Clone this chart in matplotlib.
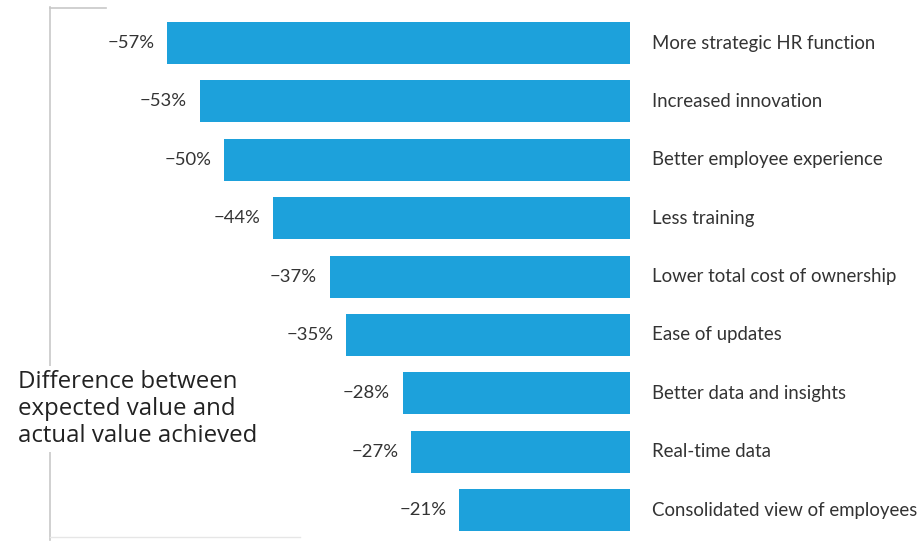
import matplotlib
matplotlib.use("Agg")
import matplotlib.pyplot as plt
from matplotlib.lines import Line2D

categories = ["More strategic HR function", "Increased innovation", "Better employee experience",
              "Less training", "Lower total cost of ownership", "Ease of updates",
              "Better data and insights", "Real-time data", "Consolidated view of employees"]
values = [-57, -53, -50, -44, -37, -35, -28, -27, -21]
value_labels = ["\u221257%", "\u221253%", "\u221250%", "\u221244%", "\u221237%", "\u221235%",
                "\u221228%", "\u221227%", "\u221221%"]
note = "Difference between\nexpected value and\nactual value achieved"

plt.rcParams['font.family'] = ['Lato', 'DejaVu Sans']
W, H = 921, 543
fig = plt.figure(figsize=(W / 100, H / 100), dpi=100)
fig.patch.set_facecolor('white')

ax_left, ax_right = 50, 630
ax_top, ax_bot = 8, 537
ax = fig.add_axes([ax_left / W, 1 - ax_bot / H, (ax_right - ax_left) / W, (ax_bot - ax_top) / H])
bar_color = '#1DA1DB'
y = list(range(len(values)))
ax.barh(y, values, height=0.72, color=bar_color)
ax.set_xlim(-(ax_right - ax_left) / 8.12, 0)
ax.set_ylim(len(values) - 1 + 0.46, -0.6)
ax.axis('off')

for yi, v, lab, cat in zip(y, values, value_labels, categories):
    ax.annotate(lab, (v, yi), xytext=(-9, 0), textcoords='offset points', ha='right', va='center',
                fontsize=13.3, color='#333333')
    ax.annotate(cat, (0, yi), xytext=(16, 0), textcoords='offset points', ha='left', va='center',
                fontsize=13.4, color='#333333')

# bracket
lc = '#c8c8c8'
fig.add_artist(Line2D([50 / W, 50 / W], [1 - 7 / H, 1 - 540 / H], color=lc, lw=1.2))
fig.add_artist(Line2D([50 / W, 106 / W], [1 - 8 / H, 1 - 8 / H], color=lc, lw=1.2))
fig.add_artist(Line2D([50 / W, 300 / W], [1 - 537 / H, 1 - 537 / H], color='#e6e6e6', lw=1.0))

fig.text(18 / W, 1 - 409 / H, note, ha='left', va='center', fontsize=17.3, color='#222222',
         family=['Open Sans', 'DejaVu Sans'], linespacing=1.17,
         bbox=dict(facecolor='white', edgecolor='none', pad=3))

fig.savefig('out.png', dpi=100)
